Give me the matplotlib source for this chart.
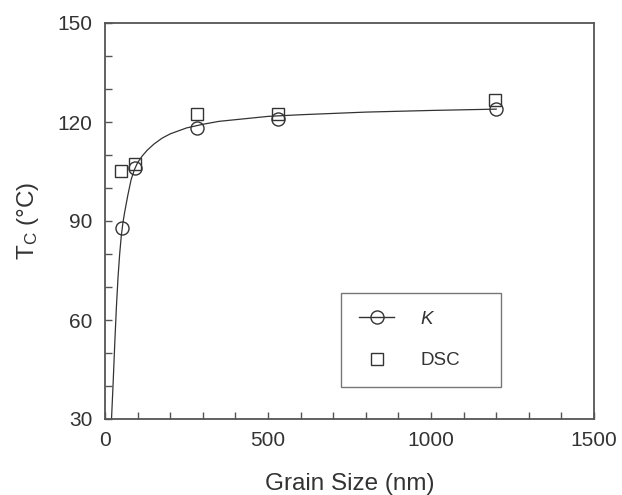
import matplotlib
matplotlib.use("Agg")
import matplotlib.pyplot as plt
from matplotlib.lines import Line2D
from matplotlib.ticker import MultipleLocator

# ---- data ----
size_k = [52, 91, 281, 531, 1199]
tc_k = [87.8, 106.1, 118.1, 120.9, 124.0]
size_dsc = [50, 93, 281, 530, 1197]
tc_dsc = [105.3, 107.4, 122.3, 122.4, 126.6]
fit_x = [20, 25, 30, 35, 40, 45, 50, 55, 60, 70, 80, 90, 100, 115, 130, 150,
         175, 200, 250, 300, 350, 400, 500, 600, 800, 1000, 1200]
fit_y = [30, 41, 53, 64, 73, 80, 85.5, 89.5, 92.5, 97.8, 102.5, 105.5, 107.7,
         109.8, 111.5, 113.3, 115.1, 116.4, 118.2, 119.3, 120.2, 120.7, 121.7,
         122.2, 123.0, 123.5, 123.9]
x_ticks = [0, 500, 1000, 1500]
y_ticks = [30, 60, 90, 120, 150]
legend_labels = ["K", "DSC"]

plt.rcParams["font.family"] = ["Liberation Sans", "DejaVu Sans"]
plt.rcParams["mathtext.fontset"] = "custom"
plt.rcParams["mathtext.rm"] = "Liberation Sans"
plt.rcParams["mathtext.it"] = "Liberation Sans:italic"

TXT = "#333333"
SP = "#555555"
LN = "#333333"

fig = plt.figure(figsize=(6.22, 4.95), dpi=100)
ax = fig.add_axes([105 / 622, 1 - 419 / 495, (594 - 105) / 622, (419 - 23) / 495])

ax.plot(fit_x, fit_y, color=LN, lw=0.9, zorder=2)
ax.plot(size_k, tc_k, linestyle="none", marker="o", ms=9.4, mfc="none",
        mec=LN, mew=1.0, zorder=3)
ax.plot(size_dsc, tc_dsc, linestyle="none", marker="s", ms=8.8, mfc="none",
        mec=LN, mew=1.0, zorder=3)

ax.set_xlim(0, 1500)
ax.set_ylim(30, 150)
ax.set_xticks(x_ticks)
ax.set_yticks(y_ticks)
ax.xaxis.set_minor_locator(MultipleLocator(100))
ax.yaxis.set_minor_locator(MultipleLocator(10))
ax.tick_params(which="both", direction="in", top=False, right=False,
               color=SP, width=1.0)
ax.tick_params(which="major", length=5, pad=9, labelsize=15, labelcolor=TXT)
ax.tick_params(which="minor", length=5)

for s in ax.spines.values():
    s.set_color(SP)
    s.set_linewidth(1.3)

ax.set_xlabel("Grain Size (nm)", fontsize=17.5, color=TXT, labelpad=16)
ax.set_ylabel(r"T$_\mathrm{C}$ (°C)", fontsize=17.5, color=TXT, labelpad=12)

h_k = Line2D([], [], color=LN, lw=1.0, marker="o", ms=9.4, mfc="none",
             mec=LN, mew=1.0)
h_d = Line2D([], [], linestyle="none", marker="s", ms=8.8, mfc="none",
             mec=LN, mew=1.0)
leg = ax.legend([h_k, h_d], legend_labels, loc="lower left",
                bbox_to_anchor=(0.4827, 0.0808, 0.328, 0.237), mode="expand",
                borderaxespad=0, fontsize=13.5, handlelength=1.9,
                handletextpad=1.4, labelspacing=1.3, borderpad=0.95,
                fancybox=False, framealpha=1, edgecolor="#777777")
leg.get_frame().set_linewidth(1.0)
for t in leg.get_texts():
    t.set_color(TXT)
leg.get_texts()[0].set_fontstyle("italic")

fig.savefig("out.png", dpi=100)
